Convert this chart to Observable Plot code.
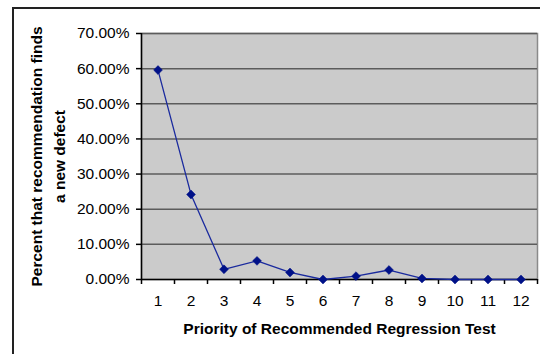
<!DOCTYPE html>
<html>
<head>
<meta charset="utf-8">
<script src="https://cdn.jsdelivr.net/npm/d3@7"></script>
<script src="https://cdn.jsdelivr.net/npm/@observablehq/plot@0.6"></script>
<style>
  html, body { margin: 0; padding: 0; background: #fff; }
  #wrap { position: relative; width: 540px; height: 354px; overflow: hidden; }
  #border { position: absolute; left: 12px; top: 7px; width: 540px; height: 400px; border: 2px solid #222; box-sizing: border-box; pointer-events: none; }
  #chart { position: absolute; left: 0; top: 0; }
  #chart svg g[aria-label*="tick label"] { font-size: 15.5px !important; }
  #chart svg g[aria-label*="tick label"] text { font-size: 15.5px !important; }
</style>
</head>
<body>
<div id="wrap"><div id="chart"></div><div id="border"></div></div>
<script>
const priorities = [1, 2, 3, 4, 5, 6, 7, 8, 9, 10, 11, 12];
const percentFinds = [59.6, 24.2, 2.9, 5.3, 2.0, 0.0, 0.95, 2.7, 0.3, 0.0, 0.0, 0.0];
const yTicks = [0, 0.1, 0.2, 0.3, 0.4, 0.5, 0.6, 0.7];
const xTitle = "Priority of Recommended Regression Test";
const yTitle = "Percent that recommendation finds\na new defect";

const data = priorities.map((p, i) => ({priority: p, value: percentFinds[i] / 100}));
const boundaries = [priorities[0] - 0.5, ...priorities.map(p => p + 0.5)];

const chart = Plot.plot({
  width: 540,
  height: 354,
  marginLeft: 141,
  marginRight: 3,
  marginTop: 33,
  marginBottom: 75,
  style: {fontFamily: "'Liberation Sans', Arial, sans-serif", fontSize: "15.5px", color: "#000", background: "transparent"},
  x: {domain: [boundaries[0], boundaries[boundaries.length - 1]], axis: null},
  y: {domain: [0, 0.7], axis: null},
  marks: [
    Plot.frame({fill: "#cbcbcb", stroke: "#8a8a8a", strokeWidth: 1.5}),
    Plot.ruleY(yTicks.slice(1), {stroke: "#5c5c5c", strokeWidth: 1.5}),
    Plot.ruleY([0], {stroke: "#000", strokeWidth: 1.5}),
    Plot.ruleX([boundaries[0]], {stroke: "#000", strokeWidth: 1.5}),
    Plot.axisY({ticks: yTicks, tickFormat: d3.format(".2%"), tickSize: 5, tickPadding: 7, stroke: "#000", strokeWidth: 1.5, fontSize: 15.5, label: null}),
    Plot.axisX({ticks: boundaries, tickFormat: () => "", tickSize: 5, stroke: "#000", strokeWidth: 1.5, label: null}),
    Plot.axisX({ticks: priorities, tickFormat: d => String(d), tickSize: 0, tickPadding: 15, fontSize: 15.5, label: null}),
    Plot.line(data, {x: "priority", y: "value", stroke: "#1a2a9e", strokeWidth: 1.3}),
    Plot.dot(data, {x: "priority", y: "value", symbol: "diamond2", r: 4, fill: "#001188", stroke: "#001188", strokeWidth: 0.5}),
    Plot.text([xTitle], {frameAnchor: "bottom", dy: 50, text: d => d, fontWeight: "bold", fontSize: 15.5, textAnchor: "middle", lineAnchor: "middle", fill: "#000"}),
    Plot.text([yTitle], {frameAnchor: "left", dx: -95, text: d => d, rotate: -90, fontWeight: "bold", fontSize: 15.5, textAnchor: "middle", lineAnchor: "middle", lineHeight: 1.45, fill: "#000"})
  ]
});
document.getElementById("chart").appendChild(chart);
</script>
</body>
</html>
